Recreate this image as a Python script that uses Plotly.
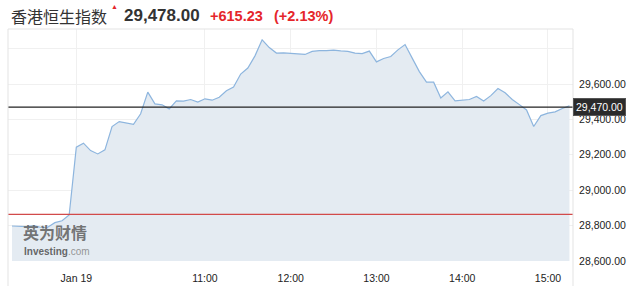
import plotly.graph_objects as go

# ---- data ----
values = [28797, 28797, 28793, 28799, 28790, 28790, 28816, 28827, 28859,
          29243, 29266, 29224, 29205, 29228, 29360, 29388, 29382, 29373,
          29432, 29555, 29488, 29483, 29460, 29505, 29504, 29513, 29498,
          29517, 29509, 29526, 29562, 29583, 29657, 29691, 29760, 29851,
          29807, 29776, 29777, 29773, 29770, 29768, 29785, 29790, 29790,
          29793, 29788, 29785, 29776, 29773, 29787, 29726, 29745, 29756,
          29794, 29824, 29747, 29671, 29611, 29611, 29522, 29556, 29505,
          29509, 29513, 29530, 29505, 29535, 29575, 29551, 29513, 29484,
          29454, 29360, 29422, 29436, 29443, 29462, 29478]
x_idx = list(range(len(values)))
x_tick_pos = [9, 27, 39, 51, 63, 75]
x_tick_text = ["Jan 19", "11:00", "12:00", "13:00", "14:00", "15:00"]
y_tick_vals = [28600, 28800, 29000, 29200, 29400, 29600, 29800]
y_tick_text = ["28,600.00", "28,800.00", "29,000.00", "29,200.00", "29,400.00", "29,600.00", ""]
prev_close = 28862.77
current_marker = 29470.00
title_name = "香港恒生指数"
last_price = "29,478.00"
change_abs = "+615.23"
change_pct = "(+2.13%)"

# ---- geometry helpers (pixel -> paper) ----
W, H = 635, 286
ML, MR, MT, MB = 8, 62, 29, 25
PW, PH = W - ML - MR, H - MT - MB

def px(xp):
    return (xp - ML) / PW

def py(yp):
    return (H - MB - yp) / PH

RED = "#e5262b"
DARK = "#333333"

fig = go.Figure()
fig.add_trace(go.Scatter(
    x=x_idx, y=values, mode="lines",
    line=dict(color="#8db5de", width=1.2),
    fill="tozeroy", fillcolor="#e4ebf2",
    hoverinfo="skip", showlegend=False,
))

fig.update_layout(
    width=W, height=H,
    margin=dict(l=ML, r=MR, t=MT, b=MB, autoexpand=False),
    paper_bgcolor="white", plot_bgcolor="white",
    font=dict(family="Liberation Sans, Arial", size=10.5, color=DARK),
    showlegend=False,
    xaxis=dict(
        range=[-0.56, 78.5], tickmode="array", tickvals=x_tick_pos, ticktext=x_tick_text,
        showgrid=True, gridcolor="#f0f0f0", gridwidth=1, zeroline=False, automargin=False,
        showline=False, ticks="outside", ticklen=7, tickcolor="rgba(0,0,0,0)",
        tickfont=dict(size=10.5, color="#222"),
    ),
    yaxis=dict(
        range=[28599, 29912], side="right", tickmode="array",
        tickvals=y_tick_vals, ticktext=y_tick_text, automargin=False,
        showgrid=True, gridcolor="#f0f0f0", gridwidth=1, zeroline=False,
        showline=False, ticks="outside", ticklen=3, tickcolor="rgba(0,0,0,0)",
        tickfont=dict(size=10.5, color="#222"),
    ),
)

# reference lines
fig.add_hline(y=prev_close, line=dict(color="#d24a4a", width=1.2))
fig.add_hline(y=current_marker, line=dict(color="#222222", width=1.2))

# plot frame (top, left, right extending to bottom)
frame_col = "#e3e3e3"
fig.add_shape(type="line", xref="paper", yref="paper", x0=0, x1=1, y0=1, y1=1,
              line=dict(color=frame_col, width=1))
fig.add_shape(type="line", xref="paper", yref="paper", x0=0, x1=0, y0=py(H), y1=1,
              line=dict(color=frame_col, width=1))
fig.add_shape(type="line", xref="paper", yref="paper", x0=1, x1=1, y0=py(H), y1=1,
              line=dict(color=frame_col, width=1))

# current value badge
fig.add_annotation(
    x=1, xref="paper", y=current_marker, yref="y", xanchor="left", yanchor="middle",
    text=f"{current_marker:,.2f}", showarrow=False,
    font=dict(size=10.5, color="white", family="Liberation Sans, Arial"),
    bgcolor="#2b2b2b", bordercolor="#555555", borderwidth=1, borderpad=2,
)

# header
fig.add_annotation(x=px(8.5), y=py(16), xref="paper", yref="paper", xanchor="left", yanchor="middle",
                   text=title_name, showarrow=False,
                   font=dict(family="Noto Sans CJK SC", size=16, color=DARK))
fig.add_annotation(x=px(114), y=py(6.5), xref="paper", yref="paper", xanchor="center", yanchor="middle",
                   text="▲", showarrow=False, font=dict(size=7, color=RED))
fig.add_annotation(x=px(122), y=py(16), xref="paper", yref="paper", xanchor="left", yanchor="middle",
                   text=f"<b>{last_price}</b>", showarrow=False,
                   font=dict(family="Liberation Sans, Arial", size=17, color=DARK))
fig.add_annotation(x=px(208), y=py(16.5), xref="paper", yref="paper", xanchor="left", yanchor="middle",
                   text=f"<b>{change_abs}</b>", showarrow=False,
                   font=dict(family="Liberation Sans, Arial", size=14.5, color=RED))
fig.add_annotation(x=px(272), y=py(16.5), xref="paper", yref="paper", xanchor="left", yanchor="middle",
                   text=f"<b>{change_pct}</b>", showarrow=False,
                   font=dict(family="Liberation Sans, Arial", size=14.5, color=RED))

# watermark
fig.add_annotation(x=px(21), y=py(232), xref="paper", yref="paper", xanchor="left", yanchor="middle",
                   text="<b>英为财情</b>", showarrow=False,
                   font=dict(family="Noto Sans CJK SC", size=16, color="rgba(95,95,95,0.85)"))
fig.add_annotation(x=px(22), y=py(251.5), xref="paper", yref="paper", xanchor="left", yanchor="middle",
                   text="<b>Investing</b><span style='color:#8a8a8a'>.com</span>", showarrow=False,
                   font=dict(family="Liberation Sans, Arial", size=10, color="rgba(85,85,85,0.9)"))

fig.write_html("out.html")
